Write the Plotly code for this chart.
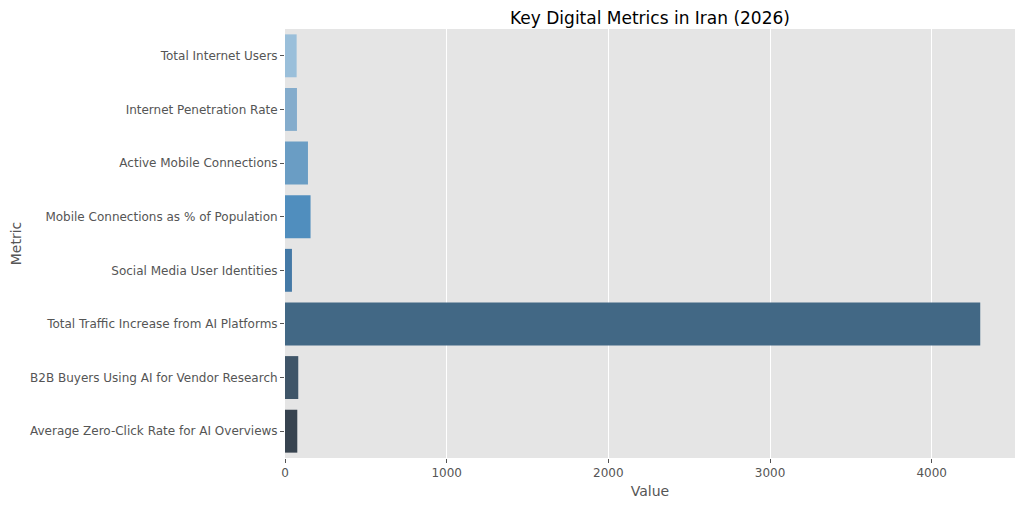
import plotly.graph_objects as go

metrics = [
    "Total Internet Users",
    "Internet Penetration Rate",
    "Active Mobile Connections",
    "Mobile Connections as % of Population",
    "Social Media User Identities",
    "Total Traffic Increase from AI Platforms",
    "B2B Buyers Using AI for Vendor Research",
    "Average Zero-Click Rate for AI Overviews",
]
values = [72, 74, 142, 158, 43, 4300, 82, 76]
x_ticks = [0, 1000, 2000, 3000, 4000]

colors = ["#9ABFDA", "#84ACCC", "#6A9DC4", "#508EBE",
          "#4479A6", "#426885", "#3F5568", "#37434F"]

fig = go.Figure(
    go.Bar(
        x=values,
        y=metrics,
        orientation="h",
        marker=dict(color=colors, line=dict(width=0)),
        width=0.8,
    )
)

# The page body has an 8px default margin, so the figure is offset by 8px.
OFF = 8
font_family = "DejaVu Sans"
fig.update_layout(
    width=1024,
    height=508,
    paper_bgcolor="white",
    plot_bgcolor="#E5E5E5",
    margin=dict(l=285 - OFF, r=9 + OFF, t=29 - OFF, b=50 + OFF),
    showlegend=False,
    font=dict(family=font_family, color="#555555", size=12),
    title=dict(
        text="Key Digital Metrics in Iran (2026)",
        x=((285 + 1015) / 2 - OFF) / 1024,
        xanchor="center",
        y=1 - (18 - OFF) / 508,
        yanchor="middle",
        font=dict(family=font_family, size=17, color="black"),
    ),
)
fig.update_xaxes(
    automargin=False,
    range=[0, 4515],
    tickvals=x_ticks,
    ticktext=[str(v) for v in x_ticks],
    showgrid=True,
    gridcolor="white",
    gridwidth=1,
    zeroline=False,
    ticks="outside",
    ticklen=4,
    tickcolor="#555555",
    tickfont=dict(size=12, color="#555555"),
    title=dict(text="Value", font=dict(size=14, color="#555555"), standoff=6),
    showline=False,
)
fig.update_yaxes(
    automargin=False,
    categoryorder="array",
    categoryarray=metrics,
    autorange="reversed",
    showgrid=False,
    zeroline=False,
    ticks="outside",
    ticklen=4,
    tickcolor="#555555",
    tickfont=dict(size=12, color="#555555"),
    title=dict(text="Metric", font=dict(size=14, color="#555555"), standoff=5),
    showline=False,
)

fig.write_html("out.html")
